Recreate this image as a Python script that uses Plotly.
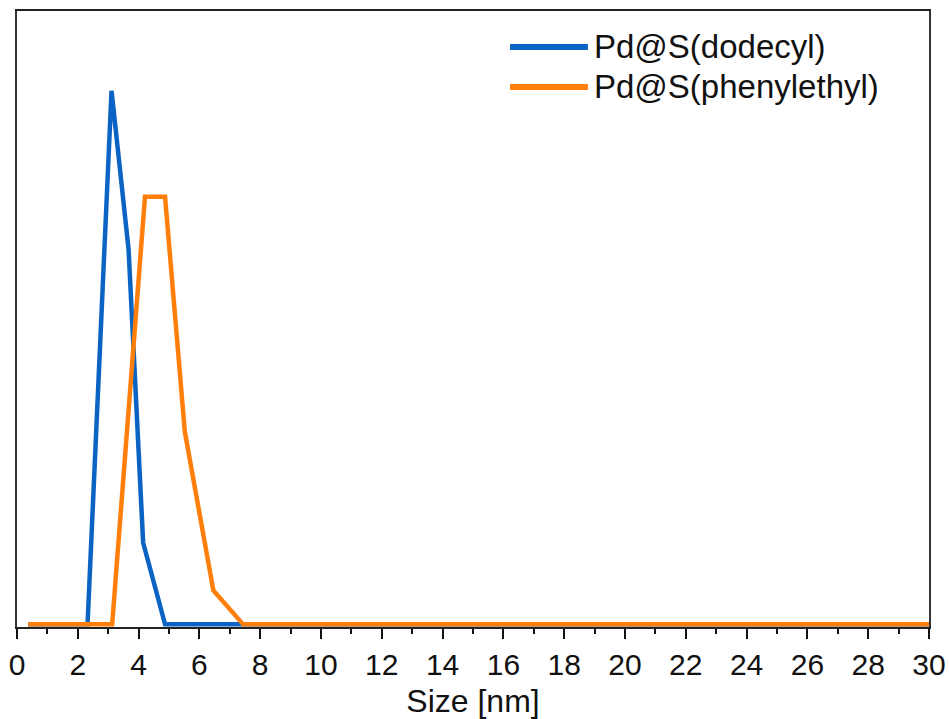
import plotly.graph_objects as go

# Data
size_dodecyl = [0.37, 2.32, 3.11, 3.67, 4.15, 4.87, 7.44, 30.0]
val_dodecyl = [0, 0, 30.45, 21.4, 4.66, 0, 0, 0]
size_phenyl = [0.37, 3.13, 4.21, 4.87, 5.52, 6.46, 7.44, 30.0]
val_phenyl = [0, 0, 24.4, 24.4, 11.0, 1.93, 0, 0]
names = ["Pd@S(dodecyl)", "Pd@S(phenylethyl)"]
colors = ["#0B64C4", "#FF7F0A"]
x_ticks = list(range(0, 31, 2))

fig = go.Figure()
fig.add_trace(go.Scatter(x=size_dodecyl, y=val_dodecyl, mode="lines", name=names[0],
                         line=dict(color=colors[0], width=4.5), showlegend=False))
fig.add_trace(go.Scatter(x=size_phenyl, y=val_phenyl, mode="lines", name=names[1],
                         line=dict(color=colors[1], width=4.5), showlegend=False))

# custom legend (long line samples)
for i, (nm, c) in enumerate(zip(names, colors)):
    yp = 0.9416 - i * 0.0649
    fig.add_shape(type="line", xref="paper", yref="paper", x0=0.5406, x1=0.626, y0=yp, y1=yp,
                  line=dict(color=c, width=6))
    fig.add_annotation(xref="paper", yref="paper", x=0.631, y=yp, text=nm, showarrow=False,
                       xanchor="left", yanchor="middle",
                       font=dict(family="Liberation Sans, Arial", size=33, color="#111"))

fig.update_layout(
    width=949, height=719,
    margin=dict(l=17, r=20, t=11, b=92, autoexpand=False),
    paper_bgcolor="white", plot_bgcolor="white",
    font=dict(family="Liberation Sans, Arial", color="#111"),
    showlegend=False,
)
fig.update_xaxes(range=[0, 30], tickvals=x_ticks, ticktext=[str(t) for t in x_ticks],
                 ticks="outside", ticklen=10, tickwidth=2, tickcolor="#111",
                 minor=dict(dtick=1, ticks="outside", ticklen=5, tickwidth=2, tickcolor="#111"),
                 showline=True, linecolor="#222", linewidth=2, mirror=True,
                 showgrid=False, zeroline=False, automargin=False,
                 tickfont=dict(size=30),
                 title=dict(text="Size [nm]", font=dict(size=32), standoff=10))
fig.update_yaxes(range=[-0.15, 35], showticklabels=False, ticks="",
                 showline=True, linecolor="#333", linewidth=2, mirror=True,
                 showgrid=False, zeroline=False, automargin=False)

fig.write_html("out.html")
